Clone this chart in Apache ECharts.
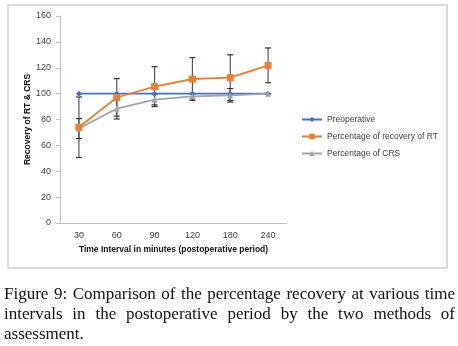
<!DOCTYPE html>
<html>
<head>
<meta charset="utf-8">
<script src="https://cdn.jsdelivr.net/npm/echarts@6/dist/echarts.min.js"></script>
<style>
  html, body { margin: 0; padding: 0; background: #fff; }
  #wrap { position: relative; width: 458px; height: 346px; overflow: hidden; }
  #chart { position: absolute; left: 0; top: 0; width: 458px; height: 346px; }
  #caption {
    position: absolute; left: 4px; top: 284px; width: 451px;
    font-family: "Liberation Serif", "DejaVu Serif", serif;
    font-size: 17px; line-height: 20px; color: #111;
  }
  #caption div { text-align: justify; text-align-last: justify; white-space: nowrap; }
  #caption div.last { text-align-last: left; }
</style>
</head>
<body>
<div id="wrap">
  <div id="chart"></div>
  <div id="caption">
    <div>Figure 9: Comparison of the percentage recovery at various time</div>
    <div>intervals in the postoperative period by the two methods of</div>
    <div class="last">assessment.</div>
  </div>
</div>
<script>
// 数据
var times = ['30', '60', '90', '120', '180', '240'];
var preop = [100, 100, 100, 100, 100, 100];
var rtRecovery = [74, 97, 105.4, 111.3, 112.3, 121.8];
var crsRecovery = [73, 88.4, 95.3, 97.9, 98.7, 100];
// 误差范围 (low, high)
var rtLow = [50.6, 82.6, 90, 94.8, 94.6, 108.4];
var rtHigh = [97.4, 111.6, 120.8, 127.8, 130, 135.3];
var crsLow = [65.3, 80.4, 91.3, 96, 93.5, 100];
var crsHigh = [80.7, 96.4, 99.3, 99.8, 103.9, 100];

var errData = [];
for (var i = 0; i < times.length; i++) {
    errData.push([i, rtLow[i], rtHigh[i]]);
    errData.push([i, crsLow[i], crsHigh[i]]);
}

var myChart = echarts.init(document.getElementById('chart'));

var labelFont = '"Liberation Sans", "Noto Sans", sans-serif';

var option = {
    animation: false,
    graphic: [{
        type: 'rect',
        shape: { x: 8, y: 5, width: 439, height: 263 },
        style: { fill: 'none', stroke: '#d0d0d0', lineWidth: 1.5 },
        z: -1
    }],
    grid: { left: 60, top: 16, width: 227, height: 207 },
    legend: {
        orient: 'vertical',
        left: 301,
        top: 115,
        padding: 0,
        itemWidth: 20,
        itemHeight: 7,
        itemGap: 8,
        textStyle: { color: '#404040', fontSize: 8.5, fontFamily: labelFont },
        data: ['Preoperative', 'Percentage of recovery of RT', 'Percentage of CRS']
    },
    xAxis: {
        type: 'category',
        data: times,
        boundaryGap: true,
        name: 'Time Interval in minutes (postoperative period)',
        nameLocation: 'middle',
        nameGap: 22,
        nameTextStyle: { color: '#111', fontSize: 8.5, fontWeight: 'bold', fontFamily: labelFont },
        axisLine: { lineStyle: { color: '#bfbfbf', width: 1 } },
        axisTick: { show: false },
        axisLabel: { color: '#404040', fontSize: 9, margin: 8, fontFamily: labelFont },
        splitLine: { show: false }
    },
    yAxis: {
        type: 'value',
        min: 0,
        max: 160,
        interval: 20,
        name: 'Recovery of RT & CRS',
        nameLocation: 'middle',
        nameGap: 27,
        nameTextStyle: { color: '#111', fontSize: 8.5, fontWeight: 'bold', fontFamily: labelFont },
        axisLine: { show: true, lineStyle: { color: '#bfbfbf', width: 1 } },
        axisTick: { show: true, length: 4, lineStyle: { color: '#bfbfbf' } },
        axisLabel: { color: '#404040', fontSize: 9, margin: 9, fontFamily: labelFont },
        splitLine: { show: false }
    },
    series: [
        {
            name: 'errors',
            type: 'custom',
            data: errData,
            z: 1,
            silent: true,
            renderItem: function (params, api) {
                var x = api.value(0);
                var lo = api.coord([x, api.value(1)]);
                var hi = api.coord([x, api.value(2)]);
                var hw = 3;
                var st = { stroke: '#333', lineWidth: 1.2 };
                return {
                    type: 'group',
                    children: [
                        { type: 'line', shape: { x1: lo[0], y1: lo[1], x2: hi[0], y2: hi[1] }, style: { stroke: '#555', lineWidth: 1.2 } },
                        { type: 'line', shape: { x1: lo[0] - hw, y1: lo[1], x2: lo[0] + hw, y2: lo[1] }, style: st },
                        { type: 'line', shape: { x1: hi[0] - hw, y1: hi[1], x2: hi[0] + hw, y2: hi[1] }, style: st }
                    ]
                };
            }
        },
        {
            name: 'Preoperative',
            type: 'line',
            data: preop,
            z: 3,
            symbol: 'diamond',
            symbolSize: 6,
            lineStyle: { color: '#4472c4', width: 1.8 },
            itemStyle: { color: '#4472c4' }
        },
        {
            name: 'Percentage of recovery of RT',
            type: 'line',
            data: rtRecovery,
            z: 4,
            symbol: 'rect',
            symbolSize: 7,
            lineStyle: { color: '#ed7d31', width: 1.8 },
            itemStyle: { color: '#ed7d31' }
        },
        {
            name: 'Percentage of CRS',
            type: 'line',
            data: crsRecovery,
            z: 3,
            symbol: 'triangle',
            symbolSize: 6,
            lineStyle: { color: '#a5a5a5', width: 1.8 },
            itemStyle: { color: '#a5a5a5' }
        }
    ]
};

myChart.setOption(option);
</script>
</body>
</html>
